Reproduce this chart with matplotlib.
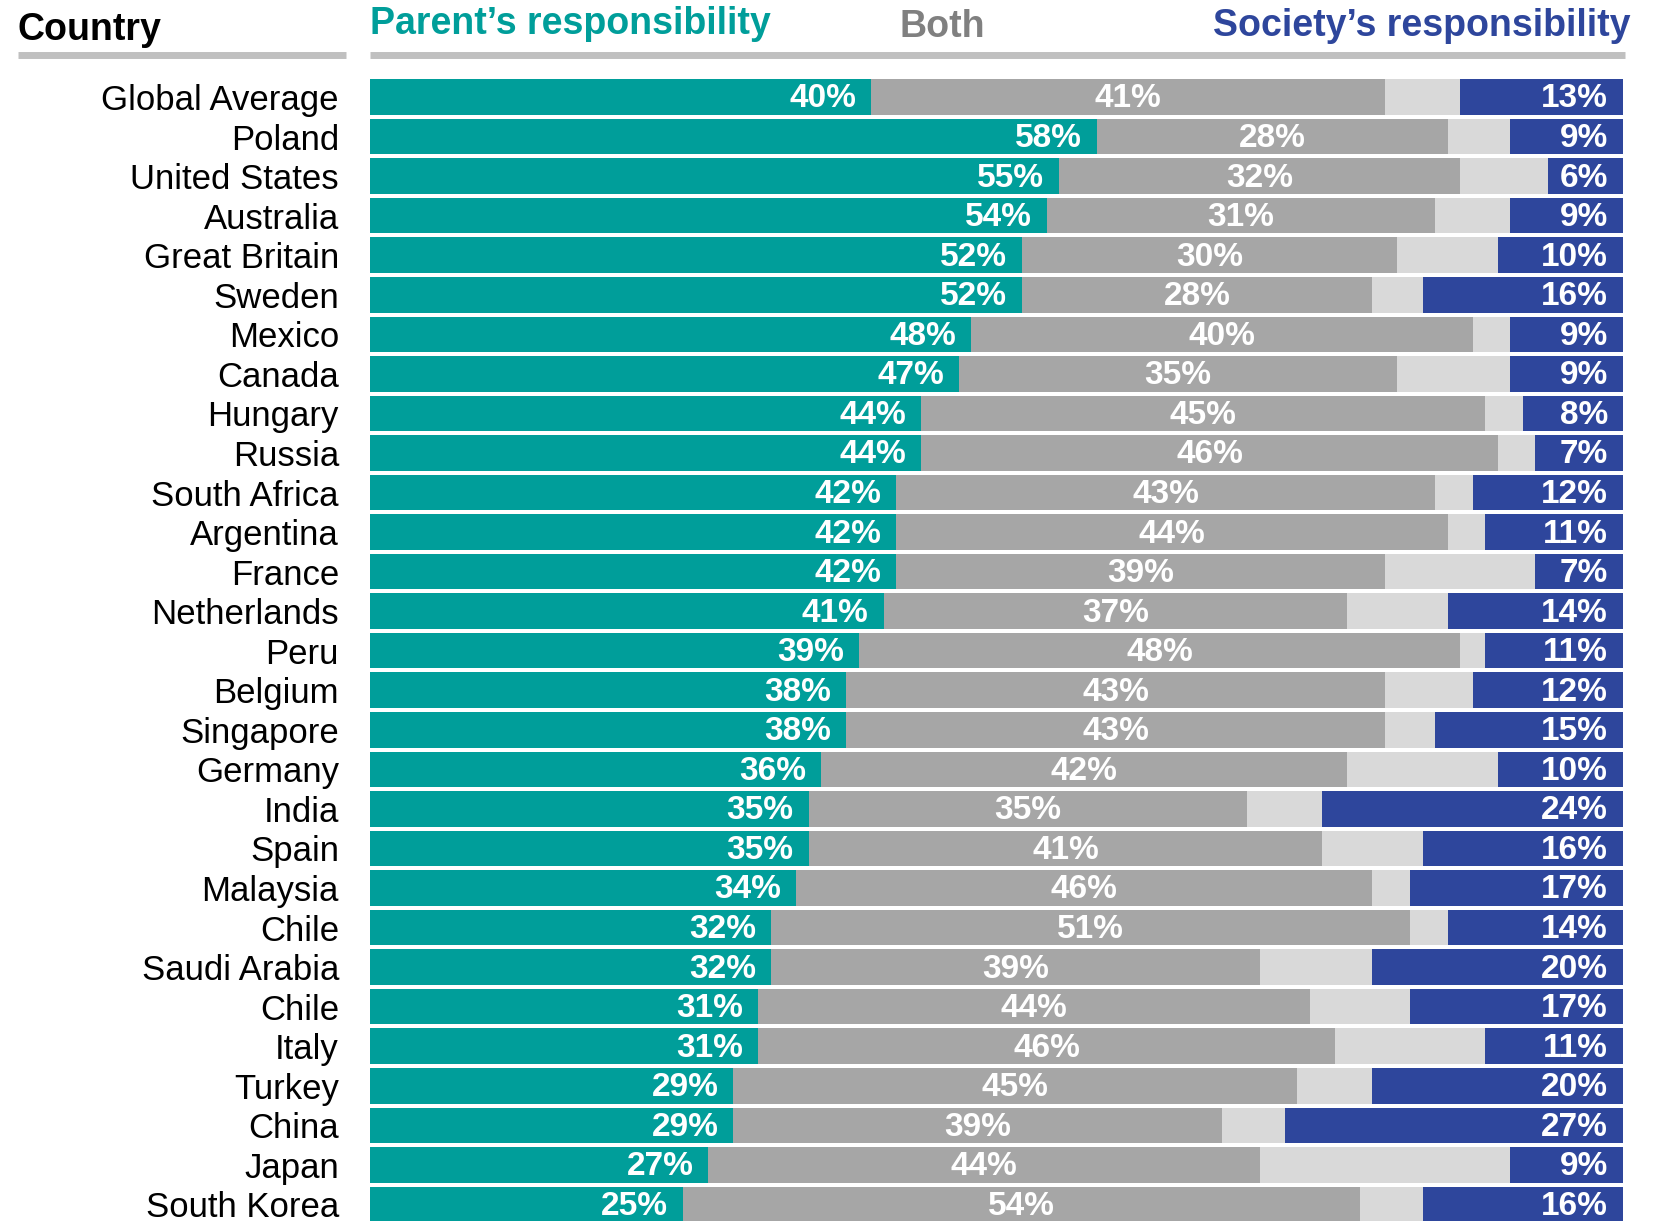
import matplotlib
matplotlib.use("Agg")
import matplotlib.pyplot as plt
import numpy as np

countries = ["Global Average", "Poland", "United States", "Australia", "Great Britain",
             "Sweden", "Mexico", "Canada", "Hungary", "Russia", "South Africa",
             "Argentina", "France", "Netherlands", "Peru", "Belgium", "Singapore",
             "Germany", "India", "Spain", "Malaysia", "Chile", "Saudi Arabia", "Chile",
             "Italy", "Turkey", "China", "Japan", "South Korea"]
parent = [40, 58, 55, 54, 52, 52, 48, 47, 44, 44, 42, 42, 42, 41, 39, 38, 38, 36,
          35, 35, 34, 32, 32, 31, 31, 29, 29, 27, 25]
both = [41, 28, 32, 31, 30, 28, 40, 35, 45, 46, 43, 44, 39, 37, 48, 43, 43, 42,
        35, 41, 46, 51, 39, 44, 46, 45, 39, 44, 54]
society = [13, 9, 6, 9, 10, 16, 9, 9, 8, 7, 12, 11, 7, 14, 11, 12, 15, 10,
           24, 16, 17, 14, 20, 17, 11, 20, 27, 9, 16]

teal = "#009E9A"
grey = "#A6A6A6"
light = "#D9D9D9"
navy = "#2E469C"

plt.rcParams["font.family"] = ["Liberation Sans", "DejaVu Sans"]

W, H = 1658, 1221
fig = plt.figure(figsize=(W / 100, H / 100), dpi=100)

parent = np.array(parent)
both = np.array(both)
society = np.array(society)
y = np.arange(len(countries))
rest = 100 - parent - both - society

# axes placed in pixel terms
row = 39.55
top_px = 97.0 - row / 2
ax_h = row * len(countries)
left_px, right_px = 370, 1623
ax = fig.add_axes([left_px / W, 1 - (top_px + ax_h) / H, (right_px - left_px) / W, ax_h / H])

ax.barh(y, parent, height=0.9, color=teal)
ax.barh(y, both, left=parent, height=0.9, color=grey)
ax.barh(y, rest, left=parent + both, height=0.9, color=light)
ax.barh(y, society, left=100 - society, height=0.9, color=navy)

lab = dict(color="white", fontsize=24, fontweight="bold", va="center")
for i in range(len(countries)):
    ax.text(parent[i] - 1.2, y[i] + 0.05, f"{parent[i]}%", ha="right", **lab)
    ax.text(parent[i] + both[i] / 2, y[i] + 0.05, f"{both[i]}%", ha="center", **lab)
    ax.text(98.8, y[i] + 0.05, f"{society[i]}%", ha="right", **lab)

ax.set_xlim(0, 100)
ax.set_ylim(len(countries) - 0.5, -0.5)
ax.set_yticks(y)
ax.set_yticklabels(countries, fontsize=25)
ax.tick_params(axis="y", length=0, pad=(370 - 339) * 0.72)
ax.set_xticks([])
for s in ax.spines.values():
    s.set_visible(False)

# header texts and rules
fig.text(18 / W, 1 - 30 / H, "Country", fontsize=27, fontweight="bold", color="black",
         ha="left", va="center")
fig.text(370 / W, 1 - 24 / H, "Parent\u2019s responsibility", fontsize=27, fontweight="bold",
         color=teal, ha="left", va="center")
fig.text(942 / W, 1 - 27 / H, "Both", fontsize=27, fontweight="bold", color="#808080",
         ha="center", va="center")
fig.text(1631 / W, 1 - 26 / H, "Society\u2019s responsibility", fontsize=27, fontweight="bold",
         color=navy, ha="right", va="center")
fig.add_artist(plt.Line2D([18 / W, 346 / W], [1 - 55 / H] * 2, color="#C0C0C0", lw=5,
                          solid_capstyle="butt"))
fig.add_artist(plt.Line2D([370 / W, 1625 / W], [1 - 55 / H] * 2, color="#C0C0C0", lw=5,
                          solid_capstyle="butt"))

fig.savefig("out.png", dpi=100)
